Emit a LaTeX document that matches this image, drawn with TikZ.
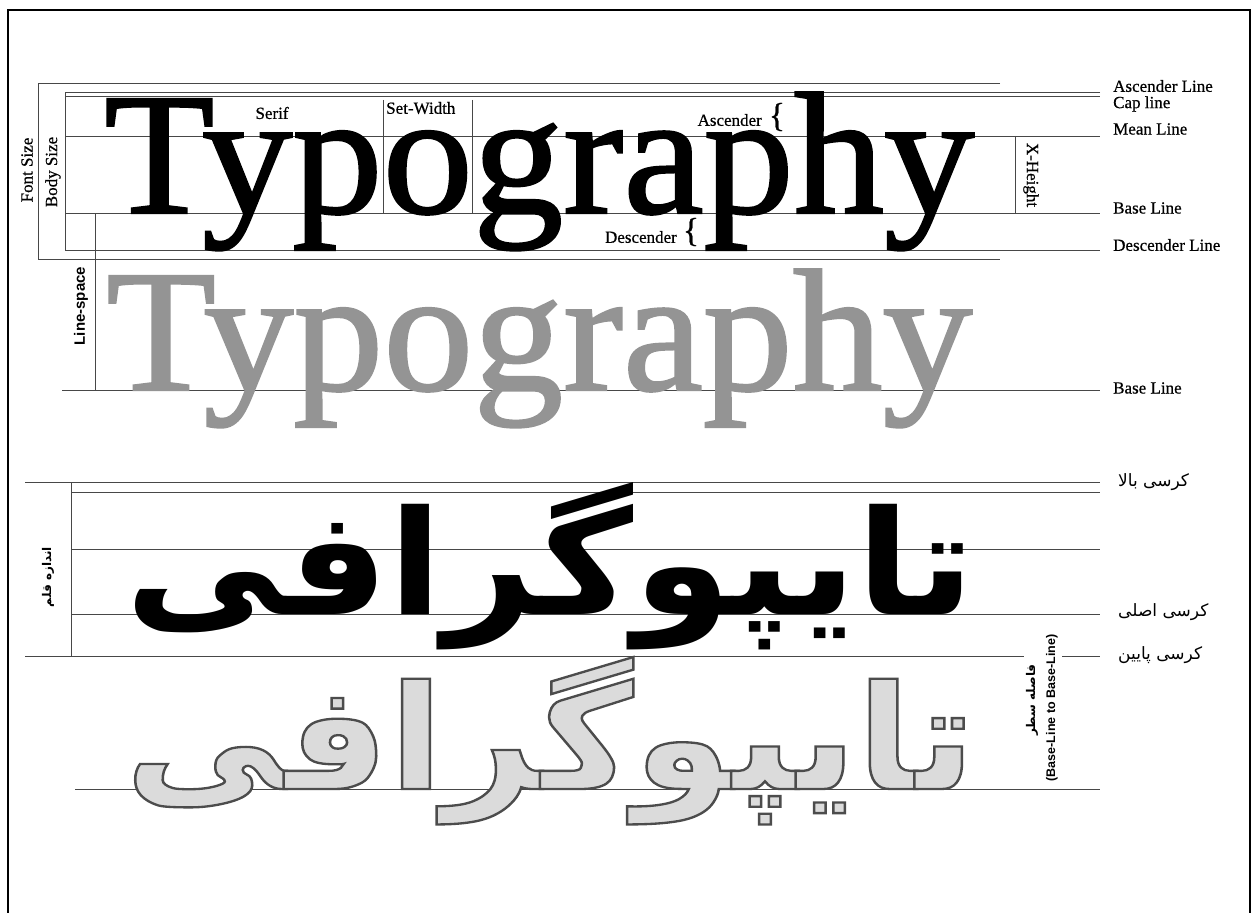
\documentclass[tikz,border=0pt]{standalone}
\usepackage{fontspec}
\setmainfont{Liberation Serif}[FakeBold=0.6]
\newfontfamily\heavyserif{Liberation Serif}[FakeBold=1.3]
\newfontfamily\arabicfont[Script=Arabic]{DejaVu Sans}
\newfontfamily\arabicoutline[Script=Arabic,FakeBold=1.6]{DejaVu Sans}
\newfontfamily\lsans{Liberation Sans}
\TeXXeTstate=1
\begin{document}
\begin{tikzpicture}[x=1pt,y=-1pt,
  guide/.style={line width=0.9pt, draw=black!72},
  frameline/.style={line width=1.3pt, draw=black},
  lbl/.style={font=\fontsize{17}{17}\selectfont, inner sep=0},
  falbl/.style={font=\arabicfont\fontsize{17}{17}\selectfont, inner sep=0},
  bigtypo/.style={anchor=base west, inner sep=0}
]
\useasboundingbox (0,0) rectangle (1257,912);
\fill[white] (0,0) rectangle (1257,912);
% frame
\draw[frameline] (8,930) -- (8,10) -- (1250,10) -- (1250,930);

% ---------- English specimen ----------
\draw[guide] (1000,83) -- (38,83) -- (38,259) -- (1000,259);
\draw[guide] (1100,92) -- (65,92) -- (65,250) -- (1100,250);
\draw[guide] (65,96) -- (1100,96);
\draw[guide] (65,136) -- (1100,136);
\draw[guide] (65,213) -- (1100,213);
\draw[guide] (62,390) -- (1100,390);
\draw[guide] (383,100) -- (383,213);
\draw[guide] (472,100) -- (472,213);
\draw[guide] (1015,136) -- (1015,213);
\draw[guide] (95,213) -- (95,390);

\node[bigtypo] (typo1) at (104,213) {\resizebox{870pt}{\height}{\heavyserif\fontsize{174}{174}\selectfont Typography}};
\node[bigtypo, text=black!42] (typo2) at (106,390) {\resizebox{866pt}{\height}{\heavyserif\fontsize{174}{174}\selectfont Typography}};

\node[lbl, anchor=west] (ascl) at (1113,86) {Ascender Line};
\node[lbl, anchor=west] (capl) at (1113,104) {Cap line};
\node[lbl, anchor=west] (meanl) at (1113,129) {Mean Line};
\node[lbl, anchor=west] (basel) at (1113,208) {Base Line};
\node[lbl, anchor=west] (descl) at (1113,245) {Descender Line};
\node[lbl, anchor=west] (basel2) at (1113,388) {Base Line};

\node[lbl] (serif) at (272,113) {Serif};
\node[lbl, anchor=west] (setw) at (386,108) {Set-Width};
\node[lbl, anchor=east] (ascn) at (762,120) {Ascender};
\node[lbl, font=\fontsize{34}{34}\selectfont] (ascb) at (777,117) {\{};
\node[lbl, anchor=east] (descn) at (677,237) {Descender};
\node[lbl, font=\fontsize{34}{34}\selectfont] (descb) at (691,232) {\{};

\node[lbl, rotate=90] (fontsize) at (27,170) {Font Size};
\node[lbl, rotate=90] (bodysize) at (53,172) {Body Size};
\node[lbl, rotate=-90] (xh) at (1031,175) {X-Height};
\node[inner sep=0, rotate=90, font=\lsans\bfseries\fontsize{15}{15}\selectfont] (ls) at (81,306) {Line-space};

% ---------- Persian specimen ----------
\draw[guide] (25,482) -- (1100,482);
\draw[guide] (71,492) -- (1100,492);
\draw[guide] (71,549) -- (1100,549);
\draw[guide] (71,614) -- (1100,614);
\draw[guide] (25,656) -- (1024,656);
\draw[guide] (1062,656) -- (1100,656);
\draw[guide] (71,482) -- (71,656);
\draw[guide] (75,789) -- (1100,789);

\node[bigtypo, text=black] (fa1) at (125,614) {\resizebox{850pt}{132pt}{\arabicfont\bfseries\fontsize{170}{170}\selectfont\beginR تایپوگرافی\endR}};
\node[bigtypo] (fa2) at (125,789) {\resizebox{850pt}{132pt}{\special{pdf:bcolor [0.86] [0.3]}\arabicoutline\bfseries\fontsize{170}{170}\selectfont\beginR تایپوگرافی\endR\special{pdf:ecolor}}};

\node[falbl, anchor=west] (kbala) at (1118,482) {\beginR کرسی بالا\endR};
\node[falbl, anchor=west] (kasli) at (1118,612) {\beginR کرسی اصلی\endR};
\node[falbl, anchor=west] (kpain) at (1118,655) {\beginR کرسی پایین\endR};
\node[falbl, rotate=90, font=\arabicfont\bfseries\fontsize{12}{12}\selectfont] (qalam) at (48,577) {\beginR اندازه قلم\endR};
\node[falbl, rotate=90, font=\arabicfont\bfseries\fontsize{12}{12}\selectfont] (fasele) at (1032,700) {\beginR فاصله سطر\endR};
\node[inner sep=0, rotate=90, font=\lsans\bfseries\fontsize{12.5}{12.5}\selectfont] (b2b) at (1052,708) {(Base-Line to Base-Line)};
\end{tikzpicture}
\end{document}
